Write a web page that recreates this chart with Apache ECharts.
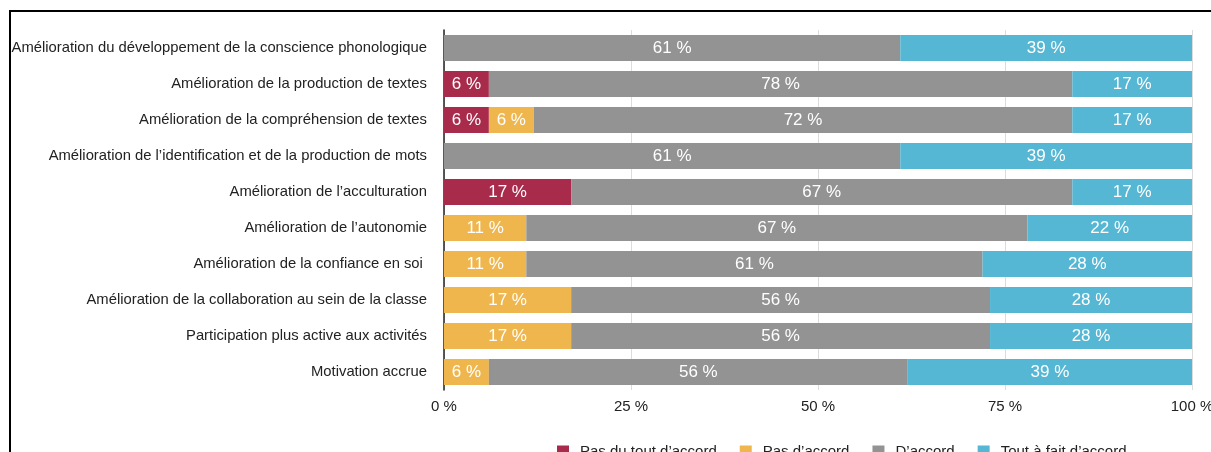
<!DOCTYPE html>
<html>
<head>
<meta charset="utf-8">
<style>
  html, body { margin: 0; padding: 0; background: #ffffff; }
  #chart { width: 1211px; height: 452px; }
</style>
<script src="https://cdn.jsdelivr.net/npm/echarts@6/dist/echarts.min.js"></script>
</head>
<body>
<div id="chart"></div>
<script>
// Survey items, top to bottom
const categories = [
  "Amélioration du développement de la conscience phonologique",
  "Amélioration de la production de textes",
  "Amélioration de la compréhension de textes",
  "Amélioration de l’identification et de la production de mots",
  "Amélioration de l’acculturation",
  "Amélioration de l’autonomie",
  "Amélioration de la confiance en soi ",
  "Amélioration de la collaboration au sein de la classe",
  "Participation plus active aux activités",
  "Motivation accrue"
];

// Share of answers per level (%)
const pasDuTout   = [0, 6, 6, 0, 17, 0, 0, 0, 0, 0];
const pasDaccord  = [0, 0, 6, 0, 0, 11, 11, 17, 17, 6];
const daccord     = [61, 78, 72, 61, 67, 67, 61, 56, 56, 56];
const toutAFait   = [39, 17, 17, 39, 17, 22, 28, 28, 28, 39];

const levelNames = ["Pas du tout d’accord", "Pas d’accord", "D’accord", "Tout à fait d’accord"];
const levelColors = ["#A92B4C", "#EFB64D", "#939393", "#55B7D4"];
const axisTicks = [0, 25, 50, 75, 100];

const FONT = "'Liberation Sans', Arial, Helvetica, sans-serif";

function makeSeries(name, values, color) {
  return {
    name: name,
    type: "bar",
    stack: "total",
    barWidth: 26,
    clip: true,
    data: values,
    itemStyle: { color: color },
    label: {
      show: true,
      position: "inside",
      color: "#ffffff",
      fontFamily: FONT,
      fontSize: 17,
      formatter: p => (p.value > 0 ? p.value + " %" : "")
    },
    emphasis: { disabled: true }
  };
}

const chart = echarts.init(document.getElementById("chart"), null, { renderer: "canvas" });

chart.setOption({
  animation: false,
  backgroundColor: "#ffffff",
  textStyle: { fontFamily: FONT },
  grid: {
    left: 444, right: 19, top: 30, height: 360,
    containLabel: false,
    outerBoundsMode: "none"
  },
  xAxis: {
    type: "value",
    min: 0,
    max: 100,
    interval: 25,
    axisLine: { show: false },
    axisTick: { show: false },
    splitLine: { show: true, lineStyle: { color: "#dcdcdc", width: 1 } },
    axisLabel: {
      color: "#222222",
      fontSize: 15,
      fontFamily: FONT,
      margin: 9,
      hideOverlap: false,
      formatter: v => (axisTicks.indexOf(v) >= 0 ? v + " %" : "")
    }
  },
  yAxis: {
    type: "category",
    inverse: true,
    data: categories,
    axisLine: { show: true, lineStyle: { color: "#222222", width: 1.5 } },
    axisTick: { show: false },
    axisLabel: {
      color: "#222222",
      fontSize: 14.8,
      fontFamily: FONT,
      margin: 17
    }
  },
  legend: {
    left: 557,
    top: 444,
    padding: 0,
    icon: "rect",
    itemWidth: 12,
    itemHeight: 12,
    itemGap: 23,
    textStyle: { color: "#222222", fontSize: 15, fontFamily: FONT, padding: [2, 0, 0, 6] },
    data: levelNames
  },
  graphic: [
    {
      type: "polyline",
      silent: true,
      z: -1,
      shape: { points: [[10, 452], [10, 11], [1211, 11]] },
      style: { stroke: "#000000", lineWidth: 2, fill: null }
    }
  ],
  series: [
    makeSeries(levelNames[0], pasDuTout, levelColors[0]),
    makeSeries(levelNames[1], pasDaccord, levelColors[1]),
    makeSeries(levelNames[2], daccord, levelColors[2]),
    makeSeries(levelNames[3], toutAFait, levelColors[3])
  ]
});
</script>
</body>
</html>
